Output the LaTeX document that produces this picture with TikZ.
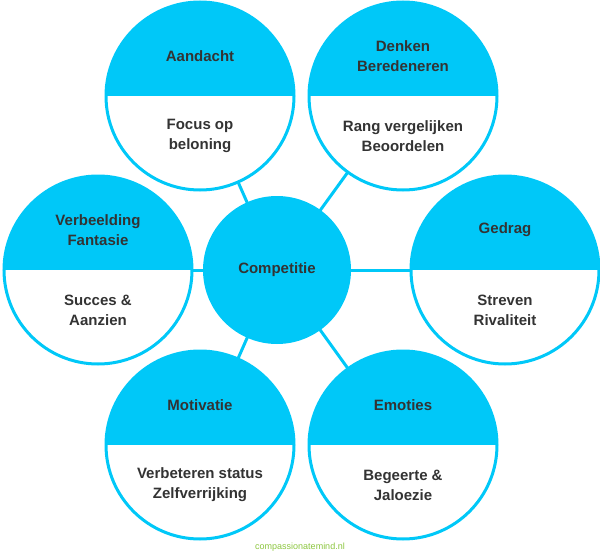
\documentclass[tikz,border=0pt]{standalone}
\usepackage{fontspec}
\usetikzlibrary{calc}
\setmainfont{Liberation Sans}
\definecolor{cb}{HTML}{00C8F8}
\definecolor{tx}{HTML}{333333}
\definecolor{gr}{HTML}{8CC63F}
\begin{document}
\begin{tikzpicture}[x=1pt,y=-1pt,
  lbl/.style={text=tx,font=\bfseries\fontsize{15}{20}\selectfont,align=center},
  conn/.style={cb,line width=3pt}]
\useasboundingbox (0,0) rectangle (600,554);
\newcommand\bub[5]{%
  \coordinate (#1) at (#2,#3);
  \begin{scope}
    \clip (#2,#3) circle (94);
    \fill[white] (#2,#3) circle (94);
    \fill[cb] (#2-100,#3-100) rectangle (#2+100,#3);
  \end{scope}
  \draw[cb,line width=3pt] (#2,#3) circle (94);
  \node[lbl] (#1u) at (#2,#3-40) {#4};
  \node[lbl] (#1l) at (#2,#3+40) {#5};
}
\node[circle,fill=cb,minimum size=148,inner sep=0] (c) at (277,270) {};
\node[lbl] (ct) at (277,270) {Competitie};
\bub{a}{200}{96}{Aandacht}{Focus op\\beloning}
\bub{b}{403}{96}{Denken\\Beredeneren}{Rang vergelijken\\Beoordelen}
\bub{d}{98}{270}{Verbeelding\\Fantasie}{Succes \&\\Aanzien}
\bub{e}{505}{270}{Gedrag}{Streven\\Rivaliteit}
\bub{f}{200}{445}{Motivatie}{Verbeteren status\\Zelfverrijking}
\bub{g}{403}{445}{Emoties}{Begeerte \&\\Jaloezie}
\foreach \o in {a,b,d,e,f,g}{
  \draw[conn] ($(c)!73pt!(\o)$) -- ($(\o)!94pt!(c)$);
}
\node[text=gr,font=\fontsize{9}{10}\selectfont] (w) at (300,547) {compassionatemind.nl};
\end{tikzpicture}
\end{document}
